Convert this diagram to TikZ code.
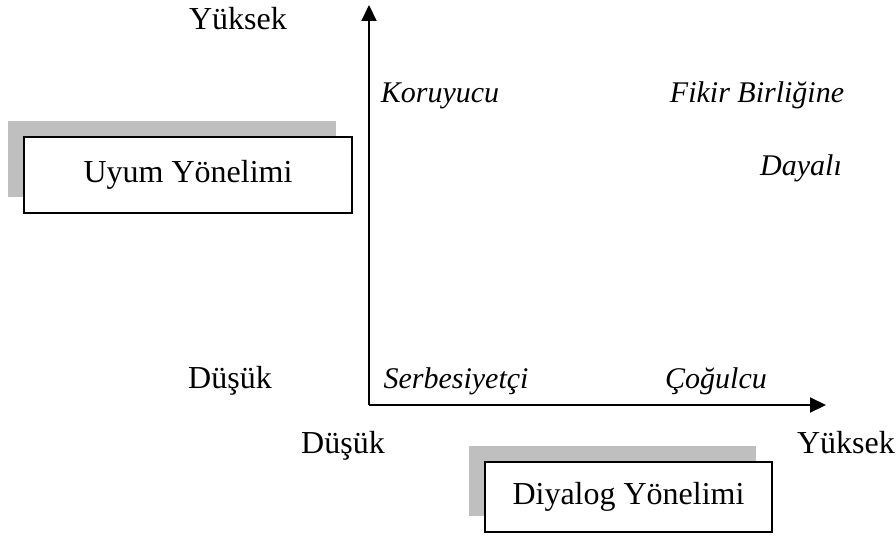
\documentclass[tikz,border=0pt]{standalone}
\usepackage{fontspec}
\setmainfont{Liberation Serif}
\usetikzlibrary{arrows.meta,shadows}
\tikzstyle{block} = [rectangle, draw, fill=white, line width=1.3pt, text centered,
   drop shadow={shadow xshift=-16pt, shadow yshift=16pt, fill=black!25, opacity=1}]
\tikzstyle{lbl} = [anchor=base, inner sep=0pt]
\tikzstyle{quad} = [anchor=base, inner sep=0pt, font=\fontsize{30}{36}\selectfont\itshape]
\tikzstyle{axis} = [draw, line width=2pt, -{Triangle[length=16pt,width=15pt]}]

\begin{document}
\begin{tikzpicture}[x=1pt, y=-1pt, font=\fontsize{32}{38}\selectfont]
\useasboundingbox (0,0) rectangle (896,535);
% Place nodes
\coordinate (orig) at (369,405);
\coordinate (ytop) at (369,5);
\coordinate (xend) at (826,405);
\node [block, minimum width=328pt, minimum height=76pt] (uyum) at (188,175) {Uyum Yönelimi};
\node [block, minimum width=287pt, minimum height=70pt] (diyalog) at (628.5,497) {Diyalog Yönelimi};
\node [lbl] (yHigh) at (238,30) {Yüksek};
\node [lbl] (yLow) at (230,388) {Düşük};
\node [lbl] (xLow) at (343,453) {Düşük};
\node [lbl] (xHigh) at (846,453) {Yüksek};
\node [quad] (koruyucu) at (440,102) {Koruyucu};
\node [quad] (fikir) at (757,102) {Fikir Birliğine};
\node [quad] (dayali) at (801,175) {Dayalı};
\node [quad] (serbes) at (456,388) {Serbesiyetçi};
\node [quad] (cogulcu) at (716,388) {Çoğulcu};
% Draw edges
\path [axis] (orig) -- (ytop);
\path [axis] (orig) -- (xend);
\end{tikzpicture}
\end{document}
